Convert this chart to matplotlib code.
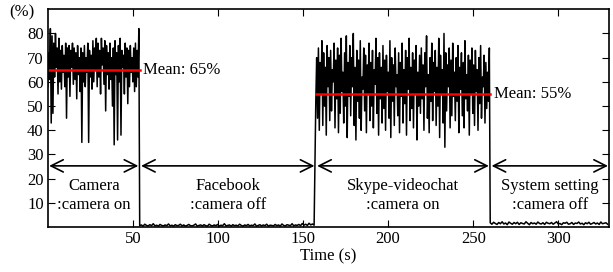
import numpy as np
import matplotlib
matplotlib.use("Agg")
import matplotlib.pyplot as plt

plt.rcParams["font.family"] = ["Liberation Serif", "DejaVu Serif"]
plt.rcParams["font.size"] = 12

# segment boundaries (s)
bounds = [0, 54, 157.5, 260, 330]
seg_labels = ["Camera\n:camera on", "Facebook\n:camera off",
              "Skype-videochat\n:camera on", "System setting\n:camera off"]
means = [65, 55]

# CPU/usage (%), segment by segment
camera_on = [58, 72, 61, 82, 43, 79, 47, 76, 62, 80, 66, 74, 55, 78, 60, 73,
             57, 75, 64, 71, 58, 76, 45, 74, 62, 75, 54, 73, 66, 76, 59, 74,
             61, 72, 53, 75, 63, 70, 56, 74, 35, 72, 60, 75, 58, 70, 64, 76,
             35, 73, 62, 71, 57, 77, 60, 74, 65, 78, 58, 76, 62, 73, 55, 78,
             67, 74, 59, 77, 48, 75, 63, 72, 57, 76, 61, 70, 50, 74, 34, 77,
             63, 72, 36, 75, 60, 78, 38, 73, 66, 71, 55, 76, 62, 74, 51, 73,
             58, 75, 64, 70, 60, 74, 56, 76, 58, 73, 62, 82]
facebook = [0.6, 0.9, 0.4, 1.2, 0.7, 0.5, 1.0, 0.6, 1.4, 0.5, 0.8, 0.4, 1.1,
            0.7, 0.5, 0.9, 0.6, 1.3, 0.5, 0.8, 0.4, 1.0, 0.6, 0.7, 1.2, 0.5,
            0.9, 0.4, 0.7, 1.1, 0.6, 0.5, 0.8, 1.3, 0.4, 0.7, 0.9, 0.5, 1.0,
            0.6, 0.4, 1.2, 0.7, 0.5, 0.9, 0.6, 1.1, 0.4, 0.8, 0.6, 1.4, 0.5,
            0.7, 0.9, 0.4, 1.0, 0.6, 0.8, 0.5, 1.2, 0.7, 0.4, 0.9, 0.6, 1.1,
            0.5, 0.8, 0.6, 1.3, 0.4, 0.7, 1.0, 0.5, 0.9, 0.6, 1.2, 0.4, 0.8,
            0.7, 0.5, 1.1, 0.6, 0.9, 0.4, 1.3, 0.7, 0.5, 1.0, 0.8, 0.6, 1.4,
            0.5, 0.9, 0.7, 1.1, 0.6, 1.5, 0.8, 1.2, 0.7, 1.6, 0.9, 1.3, 0.8]
skype_on = [52, 70, 45, 74, 40, 68, 55, 77, 42, 72, 50, 66, 38, 75, 58, 70,
            44, 73, 48, 65, 60, 76, 41, 69, 53, 74, 39, 71, 47, 78, 56, 64,
            43, 72, 50, 79, 37, 68, 54, 75, 46, 70, 58, 80, 42, 66, 36, 73,
            52, 69, 45, 77, 40, 62, 57, 74, 48, 71, 39, 67, 55, 76, 44, 68,
            50, 73, 41, 65, 59, 78, 47, 70, 38, 72, 53, 66, 43, 75, 49, 69,
            40, 71, 56, 64, 45, 77, 37, 70, 52, 67, 42, 74, 58, 63, 46, 72,
            39, 68, 54, 76, 43, 65, 51, 73, 38, 70, 57, 78, 44, 66, 49, 72,
            41, 69, 55, 75, 36, 64, 50, 71, 47, 74, 53, 67, 40, 72, 58, 79,
            45, 63, 39, 70, 52, 76, 44, 68, 56, 73, 42, 66, 50, 78, 37, 71,
            55, 65, 43, 80, 33, 72, 48, 67, 58, 74, 41, 69, 46, 76, 54, 64,
            44, 70, 52, 75, 39, 66, 57, 72, 46, 68, 41, 77, 53, 63, 48, 71,
            38, 69, 55, 74, 47, 67, 42, 73, 56, 65, 40, 70, 51, 75, 45, 62,
            58, 71, 43, 68, 49, 64, 52, 74]
sys_setting = [1.8, 1.2, 2.0, 1.5, 1.1, 1.9, 1.4, 2.2, 1.3, 1.7, 1.0, 2.1,
               1.6, 1.2, 1.9, 1.4, 2.0, 1.1, 1.8, 1.5, 1.3, 2.2, 1.6, 1.0,
               1.9, 1.4, 1.7, 1.2, 2.1, 1.5, 1.3, 1.8, 1.1, 2.0, 1.6, 1.4,
               1.9, 1.2, 1.7, 2.2, 1.3, 1.5, 1.0, 1.8, 1.6, 2.0, 1.2, 1.4,
               1.9, 1.1, 1.7, 1.5, 2.1, 1.3, 1.6, 1.0, 1.8, 1.4, 2.0, 1.2,
               1.5, 1.9, 1.3, 1.7, 1.1, 2.1, 1.4, 1.6, 1.8, 1.2]

segs = [camera_on, facebook, skype_on, sys_setting]
t_parts, y_parts = [], []
for i, vals in enumerate(segs):
    t_parts.append(np.linspace(bounds[i], bounds[i + 1], len(vals), endpoint=False))
    y_parts.append(np.asarray(vals, float))
t = np.concatenate(t_parts)
y = np.concatenate(y_parts)

fig = plt.figure(figsize=(6.13, 2.72), dpi=100)
ax = fig.add_axes([0.078, 0.165, 0.916, 0.801])

ax.plot(t, y, color="black", lw=1.1)

# mean lines on the camera-on segments
for (a, b), m in zip([(bounds[0], bounds[1]), (bounds[2], bounds[3])], means):
    ax.plot([a, b], [m, m], color="red", lw=1.8)
    ax.text(b + 2, m, f"Mean: {m}%", ha="left", va="center", fontsize=12)

# segment arrows + labels
for i, lab in enumerate(seg_labels):
    a, b = bounds[i], bounds[i + 1]
    ax.annotate("", xy=(a + 0.8, 25.3), xytext=(b - 0.8, 25.3),
                arrowprops=dict(arrowstyle="<->", color="black", lw=1.2,
                                mutation_scale=22, shrinkA=0, shrinkB=0))
    ax.text((a + b) / 2, 13, lab, ha="center", va="center", fontsize=12,
            linespacing=1.25)

ax.set_xlim(0, 330)
ax.set_ylim(0, 90)
ax.set_xticks([50, 100, 150, 200, 250, 300])
ax.set_yticks([10, 20, 30, 40, 50, 60, 70, 80])
ax.tick_params(direction="in", top=True, right=True, length=5, labelsize=12, pad=3)
for s in ax.spines.values():
    s.set_linewidth(1.2)
ax.set_xlabel("Time (s)", fontsize=12, labelpad=1)
ax.text(-15, 88.5, "(%)", ha="center", va="center", fontsize=12, clip_on=False)

fig.savefig("out.png", dpi=100)
